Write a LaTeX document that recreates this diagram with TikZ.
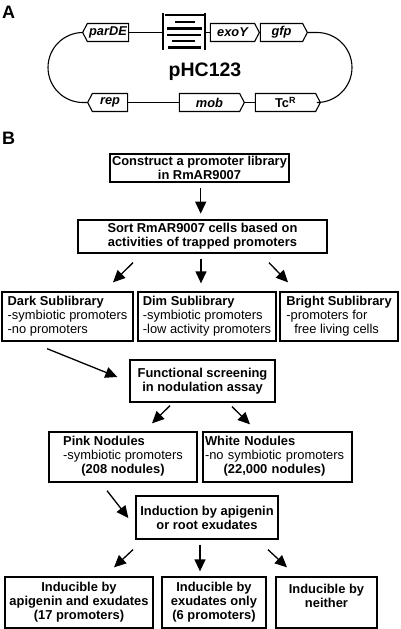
\documentclass[tikz,border=0pt]{standalone}
\usepackage{fontspec}
\setmainfont{Liberation Sans}
\usetikzlibrary{arrows.meta,calc,shapes.symbols}
\newcommand{\bfs}{\fontsize{12.9}{14}\selectfont}
\begin{document}
\begin{tikzpicture}[x=1pt,y=-1pt,
  box/.style={draw, line width=1.3pt, inner sep=2pt, font=\bfs, align=center},
  arr/.style={-{Triangle[length=12pt,width=11pt]}, line width=1.3pt},
  gene/.style={draw, line width=1.1pt, shape=signal, signal pointer angle=125, inner sep=1pt,
     minimum height=18pt, font=\fontsize{12.8}{14}\selectfont\bfseries\itshape},
  plas/.style={line width=1.1pt},
  bar/.style={line width=2.6pt}
]
\useasboundingbox (0,0) rectangle (400,629);
\fill[white] (0,0) rectangle (400,629);

% Panel labels
\node[font=\fontsize{18}{20}\selectfont\bfseries, anchor=north west, inner sep=0] (labA) at (2,6) {A};
\node[font=\fontsize{18}{20}\selectfont\bfseries, anchor=north west, inner sep=0] (labB) at (2,132) {B};

% ---------- Plasmid ----------
\node[gene, signal to=west, minimum width=46pt] (parDE) at (108,32.5) {parDE};
\node[gene, signal to=east, minimum width=49pt] (exoY) at (232.5,32.5) {exoY};
\node[gene, signal to=east, minimum width=47pt] (gfp) at (281.5,32.5) {gfp};
\node[gene, signal to=west, minimum width=40pt] (rep) at (110,102.5) {rep};
\node[gene, signal to=east, minimum width=65pt] (mob) at (209.5,102.5) {mob};
\node[gene, signal to=east, minimum width=65pt, font=\fontsize{12.8}{14}\selectfont\bfseries] (TcR) at (285.5,102.5) {Tc\textsuperscript{R}};

\coordinate (pl) at (163,32.5);
\coordinate (pr) at (205,32.5);
% promoter symbol
\draw[line width=1.4pt] (163,13) -- (163,50);
\draw[line width=1.4pt] (205,13) -- (205,50);
\draw[bar] (165,15) -- (204,15);
\draw[bar] (175,22) -- (195,22);
\draw[bar] (167,28.5) -- (202,28.5);
\draw[bar] (167,35) -- (201,35);
\draw[bar] (172,41) -- (195,41);
\draw[bar] (168,47.5) -- (201,47.5);

\draw[plas] (parDE.east) -- (pl);
\draw[plas] (pr) -- (exoY.west);
\draw[plas] (gfp.east) -- (317,32.5) arc[start angle=-90, end angle=90, radius=35] -- (TcR.east);
\draw[plas] (parDE.west) -- (83,32.5) arc[start angle=-90, end angle=-270, radius=35] -- (rep.west);
\draw[plas] (rep.east) -- (mob.west);
\draw[plas] (mob.east) -- (TcR.west);

\node[font=\fontsize{19.5}{22}\selectfont\bfseries] (name) at (205,72) {pHC123};

% ---------- Flow chart ----------
\node[box, minimum width=179pt, minimum height=28pt, font=\bfs\bfseries] (b1) at (199.5,168)
  {Construct a promoter library\\in RmAR9007};
\node[box, minimum width=249pt, minimum height=33pt, font=\bfs\bfseries] (b2) at (202.5,236.5)
  {Sort RmAR9007 cells based on\\activities of trapped promoters};

\node[box, minimum width=131pt, minimum height=49pt, align=left] (dark) at (67.5,316.5)
  {\textbf{Dark Sublibrary}\\-symbiotic promoters\\-no promoters};
\node[box, minimum width=138pt, minimum height=49pt, align=left] (dim) at (207,316.5)
  {\textbf{Dim Sublibrary}\\-symbiotic promoters\\-low activity promoters};
\node[box, minimum width=118pt, minimum height=49pt, align=left] (bright) at (339,316.5)
  {\textbf{Bright Sublibrary}\\-promoters for\\\hspace*{8pt}free living cells};

\node[box, minimum width=145pt, minimum height=42pt, font=\bfs\bfseries] (func) at (202.5,381)
  {Functional screening\\in nodulation assay};

\node[box, minimum width=148pt, minimum height=50pt] (pink) at (123,457)
  {\begin{tabular}{@{}l@{}}\textbf{Pink Nodules}\\-symbiotic promoters\\\multicolumn{1}{@{}c@{}}{\textbf{(208 nodules)}}\end{tabular}};
\node[box, minimum height=50pt, inner xsep=2pt, text width=145pt, align=left] (white) at (277.5,457)
  {\begin{tabular}{@{}l@{}}\textbf{White Nodules}\\-no symbiotic promoters\\\multicolumn{1}{@{}c@{}}{\textbf{(22,000 nodules)}}\end{tabular}};

\node[box, minimum width=142pt, minimum height=43pt, font=\bfs\bfseries] (ind) at (207,517.5)
  {Induction by apigenin\\or root exudates};

\node[box, minimum width=148pt, minimum height=51pt, font=\bfs\bfseries] (c1) at (79,602.5)
  {Inducible by\\apigenin and exudates\\(17 promoters)};
\node[box, minimum width=104pt, minimum height=51pt, font=\bfs\bfseries] (c2) at (214,602.5)
  {Inducible by\\exudates only\\(6 promoters)};
\node[box, minimum width=101pt, minimum height=51pt, font=\bfs\bfseries] (c3) at (326.5,602.5)
  {Inducible by\\neither\\[0pt]\mbox{}};

% arrows
\draw[arr] ($(b1.south)+(1.2,5)$) -- ($(b1.south)+(1.2,31)$);
\draw[arr] ($(b2.south)+(-69.5,9)$) -- ($(dark.north)+(45.5,-9)$);
\draw[arr] ($(b2.south)+(-1.5,5)$) -- ($(dim.north)+(-6,-8)$);
\draw[arr] ($(b2.south)+(66.5,9)$) -- ($(bright.north)+(-51,-9)$);
\draw[arr] ($(dark.south)+(-20.5,7)$) -- ($(func.west)+(-12,-4)$);
\draw[arr] ($(func.south)+(-32.5,3)$) -- ($(pink.north)+(29,-8)$);
\draw[arr] ($(func.south)+(29.5,4)$) -- ($(white.north)+(-27.5,-7)$);
\draw[arr] ($(pink.south)+(-16,8)$) -- ($(ind.west)+(-7,0.5)$);
\draw[arr] ($(ind.south)+(-74,10)$) -- ($(c1.north)+(35,-9)$);
\draw[arr] ($(ind.south)+(-7,5)$) -- ($(c2.north)+(-14,-5)$);
\draw[arr] ($(ind.south)+(61,10)$) -- ($(c3.north)+(-39.5,-9)$);
\end{tikzpicture}
\end{document}
